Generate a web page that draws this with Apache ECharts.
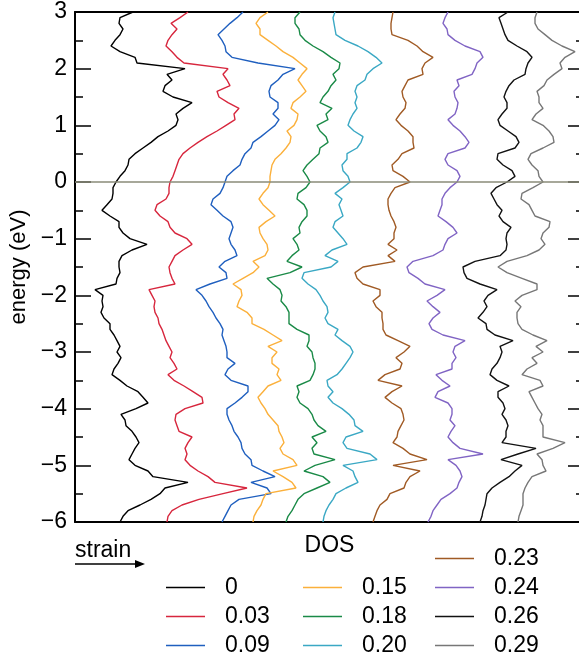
<!DOCTYPE html>
<html><head><meta charset="utf-8">
<script src="https://cdn.jsdelivr.net/npm/echarts@6/dist/echarts.min.js"></script>
<style>html,body{margin:0;padding:0;background:#fff}#c{width:579px;height:661px}</style>
</head><body><div id="c"></div>
<script>
const FONT = 'Liberation Sans';
const energy = [3,2.9,2.8,2.7,2.6,2.5,2.4,2.3,2.2,2.1,
2,1.9,1.8,1.7,1.6,1.5,1.4,1.3,1.2,1.1,
1,0.9,0.8,0.7,0.6,0.5,0.4,0.3,0.2,0.1,
0,-0.1,-0.2,-0.3,-0.4,-0.5,-0.6,-0.7,-0.8,-0.9,
-1,-1.1,-1.2,-1.3,-1.4,-1.5,-1.6,-1.7,-1.8,-1.9,
-2,-2.1,-2.2,-2.3,-2.4,-2.5,-2.6,-2.7,-2.8,-2.9,
-3,-3.1,-3.2,-3.3,-3.4,-3.5,-3.6,-3.7,-3.8,-3.9,
-4,-4.1,-4.2,-4.3,-4.4,-4.5,-4.6,-4.7,-4.8,-4.9,
-5,-5.1,-5.2,-5.3,-5.4,-5.5,-5.6,-5.7,-5.8,-5.9,
-6];
const strainLabels = ['0','0.03','0.09','0.15','0.18','0.20','0.23','0.24','0.26','0.29'];
const lineColors = ['#000000','#d7263d','#1f5fbf','#fbb03b','#1a8a47','#3aa8c4','#a05a24','#8064c4','#111111','#777777'];
// DOS (arb. units, curves offset horizontally) sampled on the energy grid
const dos_000 = [58,45,44,48,45,40,36,45,60,62,
110,92,97,90,88,98,117,108,101,103,
101,93,83,76,68,60,54,53,50,45,
41,38,38,37,32,27,35,44,44,48,
55,72,57,47,44,
44,45,42,41,20,28,27,28,26,29,
35,35,39,42,45,42,46,43,39,37,
45,52,63,68,73,61,46,50,51,57,
61,64,60,57,54,60,73,78,113,90,
85,76,65,53,48,45];
const dos_003 = [113,105,96,102,97,93,91,97,102,109,
153,148,152,155,142,144,153,164,159,160,
151,142,132,123,115,108,104,102,100,98,
95,94,94,91,82,80,85,93,95,100,
112,117,108,100,97,
94,95,97,100,74,77,80,79,80,83,
84,87,89,91,94,97,95,99,102,93,
99,109,118,127,128,110,101,100,102,104,
117,113,110,112,110,115,123,133,140,172,
148,124,107,97,93,92];
const dos_009 = [168,162,155,149,143,147,150,151,157,183,
220,208,203,196,194,195,203,203,198,204,
200,193,186,178,176,170,167,165,158,152,
150,148,145,138,136,142,148,156,158,156,
154,156,160,162,150,
144,151,152,135,121,127,131,134,138,141,
145,148,147,149,151,152,152,160,153,150,
156,173,173,167,160,152,152,154,157,159,
163,166,167,170,176,177,188,200,176,192,
196,164,156,153,150,147];
const dos_015 = [193,185,181,185,185,193,201,208,218,225,
232,227,223,227,231,225,218,216,223,222,
219,212,216,215,211,206,200,197,196,195,
195,193,188,184,188,194,200,191,184,185,
188,192,193,190,178,
184,178,168,158,166,167,164,162,172,177,
177,189,198,207,193,202,197,197,204,202,
206,193,188,183,186,190,193,198,203,204,
207,209,205,208,218,222,198,208,217,221,
191,188,186,182,179,178];
const dos_018 = [225,220,220,224,225,230,238,248,256,265,
264,258,261,256,253,248,245,257,251,253,
242,245,251,253,245,244,238,232,228,232,
235,231,223,222,229,232,232,227,224,225,
218,222,224,217,212,
227,215,192,198,205,207,206,211,214,214,
214,222,234,234,232,237,238,240,240,238,
235,222,224,222,225,233,237,239,243,251,
237,242,237,239,260,240,229,248,255,242,
229,223,220,217,213,211];
const dos_020 = [260,258,259,260,261,270,283,293,301,307,
298,292,290,282,280,282,280,282,278,275,
273,279,288,286,282,272,272,267,268,273,
275,268,260,267,264,266,268,260,258,263,
268,272,257,250,263,
256,229,227,233,241,245,248,252,253,250,
253,263,260,267,275,278,275,271,267,262,
252,253,258,253,258,267,274,279,280,288,
271,268,272,295,302,268,278,280,283,271,
261,258,254,251,249,248];
const dos_023 = [318,317,316,316,317,333,342,348,358,350,
347,348,333,330,327,328,331,330,325,321,
326,333,338,338,339,327,323,317,318,328,
335,320,316,313,313,314,316,319,321,319,
319,313,322,313,320,
288,280,282,288,305,305,298,301,307,307,
308,308,311,323,335,329,321,327,325,310,
303,327,317,310,317,326,328,329,326,323,
322,318,328,335,352,318,345,335,331,329,
315,312,305,302,300,298];
const dos_024 = [373,370,368,372,373,380,390,405,408,402,
400,397,382,384,379,380,383,382,380,373,
378,385,390,394,390,373,370,373,382,385,
382,375,370,367,367,365,363,371,378,382,
373,370,368,358,338,
332,334,343,350,370,362,352,358,365,358,
354,357,368,390,380,378,381,377,377,361,
367,375,363,360,373,377,377,375,380,376,
373,378,385,408,373,381,385,387,384,382,
375,366,362,358,356,353];
const dos_026 = [433,424,426,428,430,433,442,452,457,453,
451,450,439,434,431,429,432,432,427,423,
425,433,441,444,440,423,422,428,437,440,
432,421,416,419,422,427,424,428,436,432,
431,432,431,425,400,
388,389,392,405,422,413,409,412,408,403,
411,412,420,438,425,427,425,422,417,415,
422,434,423,423,428,430,427,431,433,431,
431,427,461,443,426,447,440,434,425,417,
412,411,410,408,407,405];
const dos_029 = [462,460,460,463,470,477,487,500,490,485,
487,479,472,469,462,464,464,468,461,457,
468,474,478,479,468,456,453,457,463,464,
468,458,447,446,454,457,460,475,474,468,
466,470,464,452,432,
423,432,447,462,462,447,440,446,442,442,
443,447,458,472,461,468,457,462,452,447,
465,468,454,457,460,463,467,465,468,468,
468,490,478,462,467,468,471,457,453,450,
448,448,448,446,444,443];
const dosSets = [dos_000,dos_003,dos_009,dos_015,dos_018,dos_020,dos_023,dos_024,dos_026,dos_029];

const chart = echarts.init(document.getElementById('c'), null, {renderer:'canvas'});
const txt = {fontFamily: FONT, fontSize: 23, color: '#000'};
const fmt = v => v < 0 ? '\u2212' + (-v) : String(v);

const series = strainLabels.map((name, i) => ({
  name, type: 'line', symbol: 'none', showSymbol: false, smooth: false, animation: false,
  data: energy.map((e, j) => [dosSets[i][j], e]),
  lineStyle: {color: lineColors[i], width: 1.4},
  itemStyle: {color: lineColors[i]},
  z: 3
}));
series[0].markLine = {
  silent: true, symbol: 'none', animation: false,
  label: {show: false},
  lineStyle: {color: '#8a8b78', width: 1.5, type: 'solid'},
  data: [{yAxis: 0}]
};

const legendCommon = {
  orient: 'vertical', padding: 0, itemGap: 0, itemWidth: 39, itemHeight: 1.5,
  icon: 'rect',
  selectedMode: false,
  formatter: n => '{g|}' + n,
  textStyle: Object.assign({}, txt, {lineHeight: 29, rich: {g: {width: 15, lineHeight: 29}}})
};

const yBase = {
  type: 'value', min: -6, max: 3, interval: 1,
  axisLine: {show: true, onZero: false, lineStyle: {color: '#000', width: 2}},
  axisTick: {show: true, inside: true, length: 16, lineStyle: {color: '#000', width: 1.5}},
  minorTick: {show: true, splitNumber: 2, length: 8, lineStyle: {color: '#000', width: 1.5}},
  splitLine: {show: false}
};
const xBase = {
  type: 'value', min: 0, max: 509,
  axisLine: {show: true, onZero: false, lineStyle: {color: '#000', width: 2}},
  axisTick: {show: false}, axisLabel: {show: false}, splitLine: {show: false}
};

chart.setOption({
  animation: false,
  backgroundColor: '#fff',
  grid: {left: 75, top: 12, right: -5, bottom: 139, containLabel: false, outerBoundsMode: 'none'},
  xAxis: [
    Object.assign({}, xBase, {position: 'bottom', name: 'DOS', nameLocation: 'middle', nameGap: 12,
      nameTextStyle: txt}),
    Object.assign({}, xBase, {position: 'top'})
  ],
  yAxis: [
    Object.assign({}, yBase, {position: 'left',
      axisLabel: Object.assign({}, txt, {margin: 8, formatter: fmt}),
      name: 'energy (eV)', nameLocation: 'middle', nameGap: 36,
      nameTextStyle: Object.assign({}, txt, {fontSize: 22})}),
    Object.assign({}, yBase, {position: 'right', axisLabel: {show: false}})
  ],
  legend: [
    Object.assign({}, legendCommon, {data: ['0','0.03','0.09'], left: 166, top: 573}),
    Object.assign({}, legendCommon, {data: ['0.15','0.18','0.20'], left: 303, top: 573}),
    Object.assign({}, legendCommon, {data: ['0.23','0.24','0.26','0.29'], left: 435, top: 544})
  ],
  graphic: [
    {type: 'text', left: 75, top: 539, style: {text: 'strain', font: '23px "Liberation Sans"', fill: '#000'}},
    {type: 'line', shape: {x1: 75, y1: 564, x2: 139, y2: 564}, style: {stroke: '#000', lineWidth: 1.5}},
    {type: 'polygon', shape: {points: [[145, 564], [135, 560], [135, 568]]}, style: {fill: '#000'}}
  ],
  series
});
</script></body></html>
